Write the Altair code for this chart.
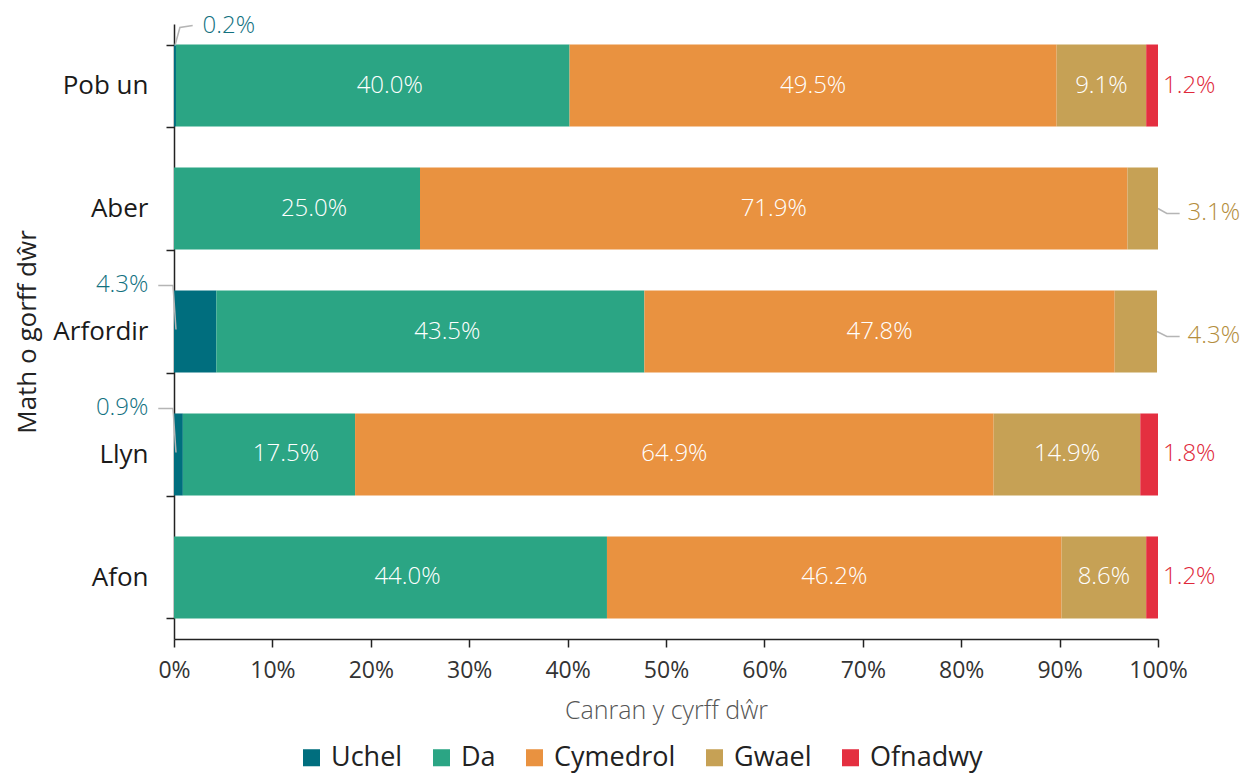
import altair as alt
import pandas as pd

categories = ["Pob un", "Aber", "Arfordir", "Llyn", "Afon"]
series = ["Uchel", "Da", "Cymedrol", "Gwael", "Ofnadwy"]
colors = ["#006e7e", "#2ba584", "#e99240", "#c6a155", "#e42f40"]

uchel = [0.2, 0.0, 4.3, 0.9, 0.0]
da = [40.0, 25.0, 43.5, 17.5, 44.0]
cymedrol = [49.5, 71.9, 47.8, 64.9, 46.2]
gwael = [9.1, 3.1, 4.3, 14.9, 8.6]
ofnadwy = [1.2, 0.0, 0.0, 1.8, 1.2]

values = [uchel, da, cymedrol, gwael, ofnadwy]
FONT = "Open Sans"
LIGHT = 300
HALF_BAND = 41  # yOffset is measured from the top of the band

rows = []
for ci, cat in enumerate(categories):
    start = 0.0
    for si, s in enumerate(series):
        v = values[si][ci]
        rows.append(dict(cat=cat, series=s, order=si, value=v, start=start,
                         end=start + v, mid=start + v / 2, label=f"{v:.1f}%"))
        start += v
df = pd.DataFrame(rows)

bars_df = df[df.value > 0]
inside_da = df[(df.value >= 5) & (df.series == "Da")]
inside_other = df[(df.value >= 5) & (df.series != "Da")]
ofn_df = df[(df.series == "Ofnadwy") & (df.value > 0)]

# small outside labels with leader lines (offsets in pixels from bar centre)
lead_rows = []
lab_rows = []
for r in df.itertuples():
    if r.value <= 0 or r.value >= 5:
        continue
    if r.series == "Uchel" and r.cat == "Pob un":
        pts = [(r.mid, -40), (0.6, -58), (1.9, -60)]
        lab_rows.append(dict(cat=r.cat, x=2.9, dy=-60, label=r.label, kind="ul"))
    elif r.series == "Uchel":
        pts = [(0.2, -2), (-0.1, -46), (-1.6, -46)]
        lab_rows.append(dict(cat=r.cat, x=-2.6, dy=-46, label=r.label, kind="ur"))
    elif r.series == "Gwael":
        pts = [(r.end, 0), (100.9, 5), (102.2, 5)]
        lab_rows.append(dict(cat=r.cat, x=103.0, dy=5, label=r.label, kind="g"))
    else:
        continue
    for k, (px, py) in enumerate(pts):
        lead_rows.append(dict(cat=r.cat, id=f"{r.cat}-{r.series}", pt=k, x=px, dy=py + HALF_BAND))
for d in lab_rows:
    d["dy"] += HALF_BAND
lead_df = pd.DataFrame(lead_rows)
lab_df = pd.DataFrame(lab_rows)

x_scale = alt.Scale(domain=[0, 100], nice=False, zero=False)
x_axis = alt.Axis(
    title="Canran y cyrff dŵr", values=list(range(0, 101, 10)),
    labelExpr="datum.value + '%'", grid=False, domainColor="#222", domainWidth=1.5,
    tickColor="#222", tickWidth=1.5, tickSize=8, labelFontSize=23, labelColor="#333",
    labelPadding=12, labelFlush=False, labelOverlap=False, titleFontSize=25,
    titleColor="#555", titleFontWeight=LIGHT, labelFontWeight="normal",
    titlePadding=16, labelFont=FONT, titleFont=FONT,
)


def X(field):
    return alt.X(field, type="quantitative", scale=x_scale, axis=x_axis)


y_enc = alt.Y(
    "cat:N", sort=categories,
    scale=alt.Scale(paddingInner=0.333, paddingOuter=0.1667),
    axis=alt.Axis(
        title="Math o gorff dŵr", tickBand="extent", domainColor="#222", domainWidth=1.5,
        tickColor="#222", tickWidth=1.5, tickSize=8, labelFontSize=26, labelColor="#1a1a1a",
        labelPadding=18, titleFontSize=26, titleColor="#222", titleFontWeight="normal",
        labelFontWeight="normal", titlePadding=12, labelFont=FONT, titleFont=FONT,
    ),
)

bars = alt.Chart(bars_df).mark_bar().encode(
    x=X("start"), x2="end",
    color=alt.Color(
        "series:N", scale=alt.Scale(domain=series, range=colors),
        legend=alt.Legend(
            orient="none", legendX=124, legendY=720, direction="horizontal", title=None,
            symbolType="square", symbolSize=290, symbolStrokeWidth=0, labelFontSize=27,
            labelFontWeight="normal", labelColor="#222", labelFont=FONT, columnPadding=25,
            labelOffset=6,
        ),
    ),
    order="order:Q",
)

txt_da = alt.Chart(inside_da).mark_text(
    color="white", fontSize=24, font=FONT, fontWeight=LIGHT, dx=17).encode(
    x=X("mid"), text="label:N")
txt_other = alt.Chart(inside_other).mark_text(
    color="white", fontSize=24, font=FONT, fontWeight=LIGHT).encode(
    x=X("mid"), text="label:N")
txt_ofn = alt.Chart(ofn_df).mark_text(
    color="#e0283a", fontSize=24, font=FONT, fontWeight=LIGHT, align="left", dx=5).encode(
    x=X("end"), text="label:N")

leaders = alt.Chart(lead_df).mark_line(color="#b5b5b5", strokeWidth=1.5).encode(
    x=X("x"), yOffset=alt.YOffset("dy:Q", scale=None), detail="id:N", order="pt:Q")

lab_ul = alt.Chart(lab_df[lab_df.kind == "ul"]).mark_text(
    color="#12717f", fontSize=24, font=FONT, fontWeight=LIGHT, align="left").encode(
    x=X("x"), yOffset=alt.YOffset("dy:Q", scale=None), text="label:N")
lab_ur = alt.Chart(lab_df[lab_df.kind == "ur"]).mark_text(
    color="#12717f", fontSize=24, font=FONT, fontWeight=LIGHT, align="right").encode(
    x=X("x"), yOffset=alt.YOffset("dy:Q", scale=None), text="label:N")
lab_g = alt.Chart(lab_df[lab_df.kind == "g"]).mark_text(
    color="#b48d3c", fontSize=24, font=FONT, fontWeight=LIGHT, align="left").encode(
    x=X("x"), yOffset=alt.YOffset("dy:Q", scale=None), text="label:N")

chart = alt.layer(
    bars, txt_da, txt_other, txt_ofn, leaders, lab_ul, lab_ur, lab_g
).encode(y=y_enc).properties(
    width=984, height=615,
    autosize=alt.AutoSizeParams(type="none"),
    padding={"left": 166, "top": 16, "right": 92, "bottom": 134},
).configure(font=FONT, view=alt.ViewConfig(stroke=None))

chart.save("out.html", embed_options={"renderer": "svg", "actions": False})
